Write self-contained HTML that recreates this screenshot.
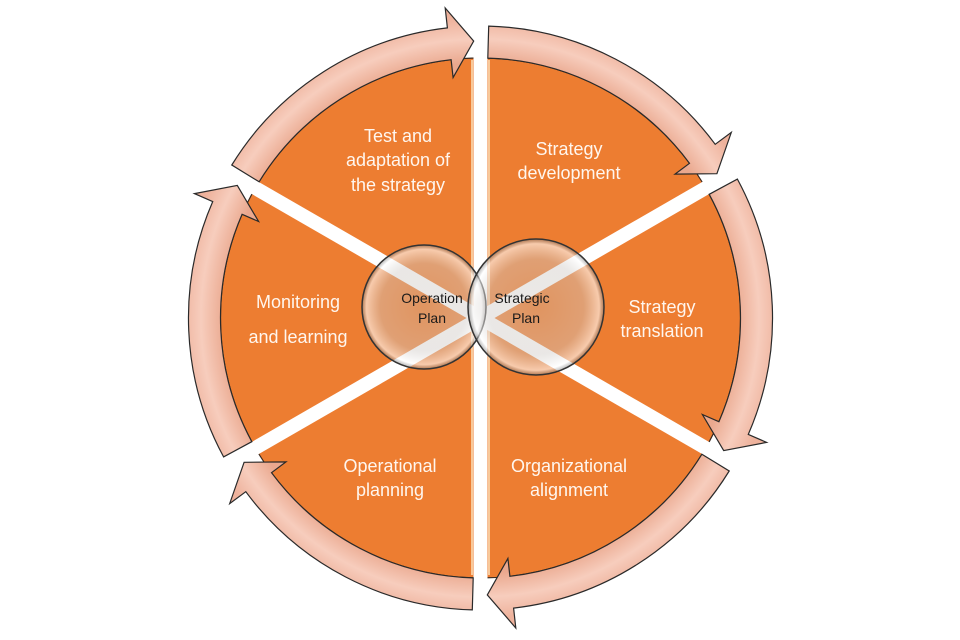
<!DOCTYPE html>
<html><head><meta charset="utf-8"><style>
html,body{margin:0;padding:0;background:#fff;}
svg{display:block;}
text{font-family:"Liberation Sans",sans-serif;}
</style></head><body>
<svg id="s" width="960" height="640" viewBox="0 0 960 640" xmlns="http://www.w3.org/2000/svg">
<defs>
<radialGradient id="pk" cx="480" cy="318" r="300" gradientUnits="userSpaceOnUse">
<stop offset="0.85" stop-color="#eaa88e"/><stop offset="0.93" stop-color="#f7cdbd"/><stop offset="1" stop-color="#eeb29c"/>
</radialGradient>
<radialGradient id="gl" cx="0.5" cy="0.5" r="0.5">
<stop offset="0" stop-color="#c8c0b8" stop-opacity="0.35"/><stop offset="0.7" stop-color="#cfcac6" stop-opacity="0.45"/><stop offset="0.93" stop-color="#ffffff" stop-opacity="0.6"/><stop offset="1" stop-color="#777" stop-opacity="0.5"/>
</radialGradient>
</defs>
<g id="g"></g>
</svg>
<script>
var cx=480.5,cy=318,R=260,g=document.getElementById('g'),NS='http://www.w3.org/2000/svg';
function P(r,a){a=a*Math.PI/180;return [(cx+r*Math.sin(a)).toFixed(1),(cy-r*Math.cos(a)).toFixed(1)];}
function el(t,at){var e=document.createElementNS(NS,t);for(var k in at)e.setAttribute(k,at[k]);g.appendChild(e);return e;}
for(var k=0;k<6;k++){var a0=60*k,a1=a0+60,p0=P(R,a0),p1=P(R,a1);
el('path',{d:'M'+cx+' '+cy+'L'+p0+'A'+R+' '+R+' 0 0 1 '+p1+'Z',fill:'#ed7d31',stroke:'#3a2a20','stroke-width':1.2});}
el('line',{x1:472,y1:60,x2:472,y2:575,stroke:'#f8c99a','stroke-width':2});
el('line',{x1:489,y1:60,x2:489,y2:575,stroke:'#f8c99a','stroke-width':2});
for(var k=0;k<3;k++){var a=60*k,p=P(R+5,a),q=P(R+5,a+180);
el('line',{x1:p[0],y1:p[1],x2:q[0],y2:q[1],stroke:'#fff','stroke-width':14});}
for(var k=0;k<6;k++){var a0=60*k,a1=a0+60,r1=260,r2=292,as=a0+1.6,ah=a1-1.5-5,at=a1-1.4;
var d='M'+P(r1,as)+'L'+P(r2,as)+'A'+r2+' '+r2+' 0 0 1 '+P(r2,ah)+'L'+P(312,ah)+'L'+P(277,at)+'L'+P(242,ah)+'L'+P(r1,ah)+'A'+r1+' '+r1+' 0 0 0 '+P(r1,as)+'Z';
el('path',{d:d,fill:'url(#pk)',stroke:'#2a2a2a','stroke-width':1.2,'stroke-linejoin':'miter'});}
el('circle',{cx:424,cy:307,r:62,fill:'url(#gl)',stroke:'#333','stroke-width':1.5});
el('circle',{cx:536,cy:307,r:68,fill:'url(#gl)',stroke:'#333','stroke-width':1.5});
function T(x,y,s,c,sz){var e=el('text',{x:x,y:y,'text-anchor':'middle',fill:c,'font-size':sz});e.textContent=s;}
var W='#fff6ee';
T(398,142,'Test and',W,18);T(398,166,'adaptation of',W,18);T(398,191,'the strategy',W,18);
T(569,155,'Strategy',W,18);T(569,179,'development',W,18);
T(662,313,'Strategy',W,18);T(662,337,'translation',W,18);
T(569,472,'Organizational',W,18);T(569,496,'alignment',W,18);
T(390,472,'Operational',W,18);T(390,496,'planning',W,18);
T(298,308,'Monitoring',W,18);T(298,343,'and learning',W,18);
T(432,303,'Operation','#1a1a1a',14);T(432,323,'Plan','#1a1a1a',14);
T(522,303,'Strategic','#1a1a1a',14);T(526,323,'Plan','#1a1a1a',14);
</script>
</body></html>
